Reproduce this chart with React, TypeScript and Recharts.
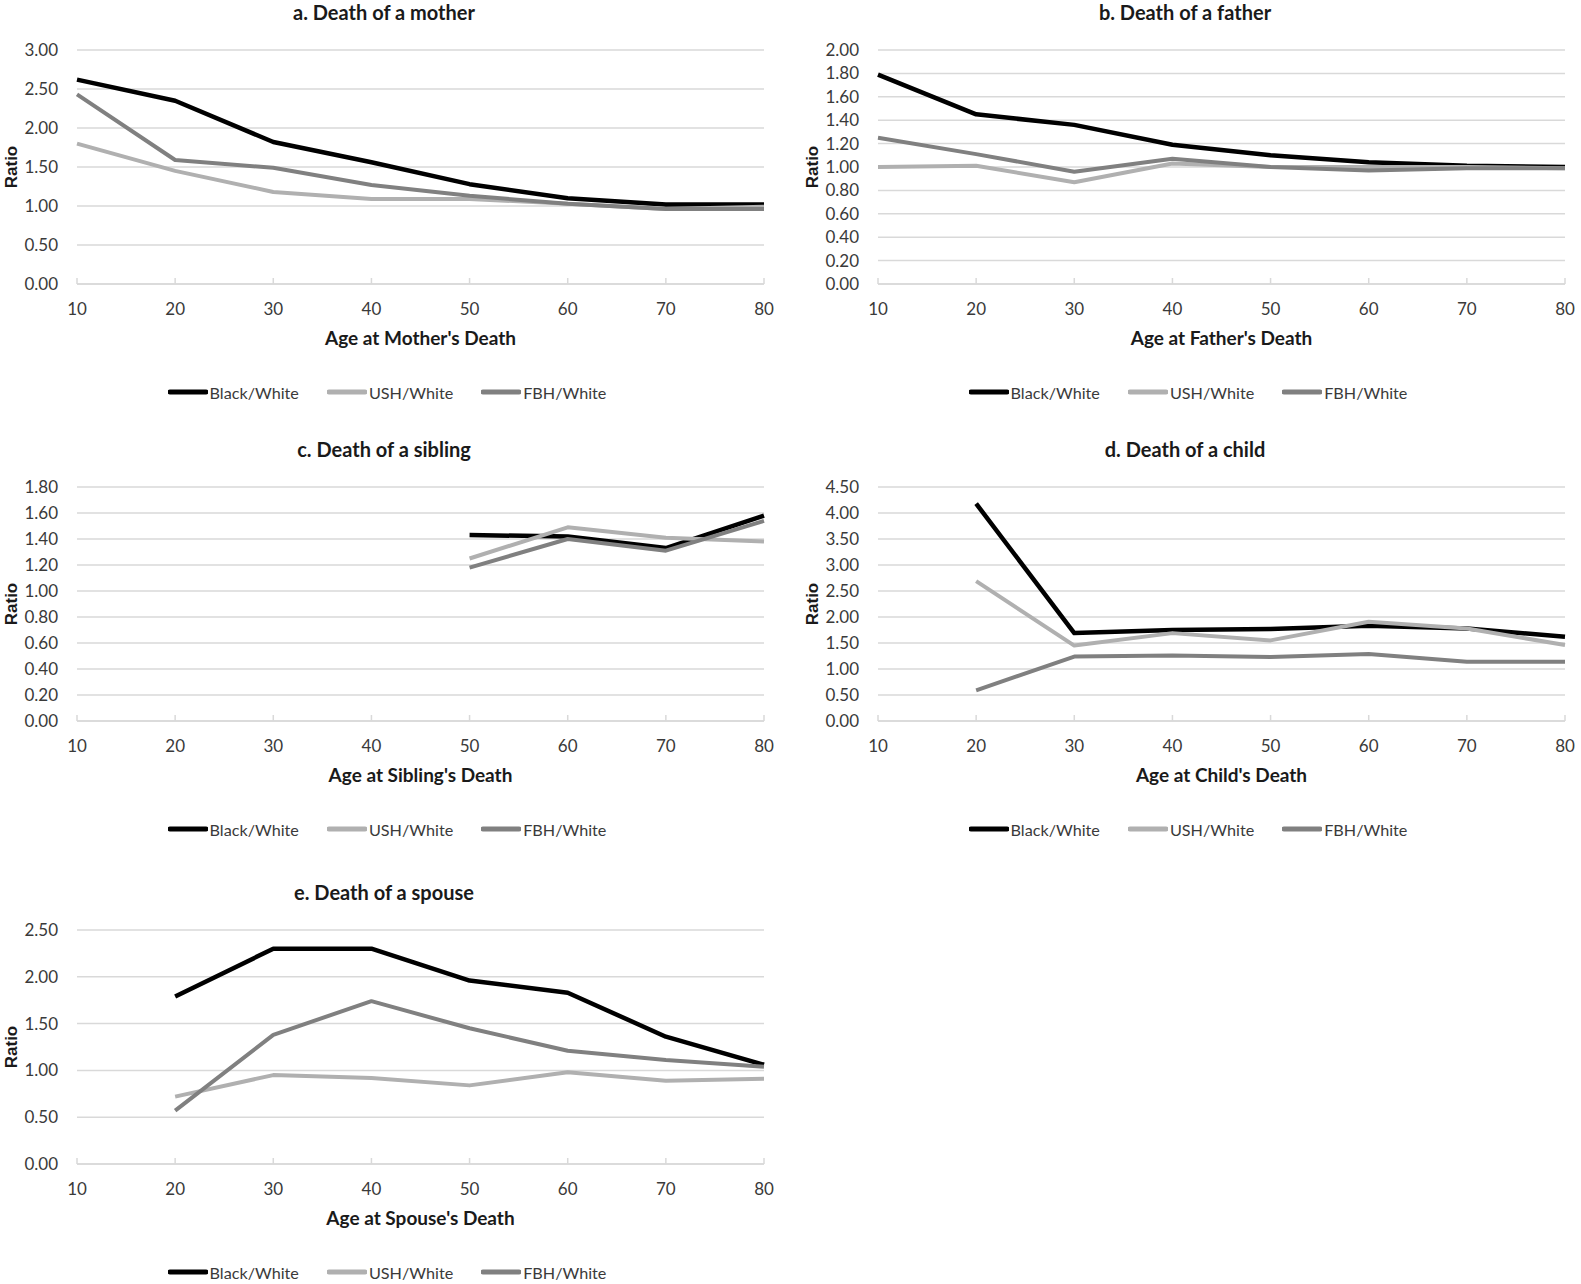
import { LineChart, Line, XAxis, YAxis, CartesianGrid, Legend } from 'recharts';

const ages = [10, 20, 30, 40, 50, 60, 70, 80];
const seriesNames = ['Black/White', 'USH/White', 'FBH/White'];
const seriesColors = ['#000000', '#b0b0b0', '#808080'];
const seriesWidths = [4.5, 4, 4];

// a. mother
const motherBlack = [2.62, 2.35, 1.82, 1.56, 1.28, 1.1, 1.02, 1.02];
const motherUSH = [1.8, 1.45, 1.18, 1.09, 1.09, 1.03, 0.96, 0.99];
const motherFBH = [2.43, 1.59, 1.49, 1.27, 1.13, 1.03, 0.96, 0.96];
const motherTicks = [0, 0.5, 1, 1.5, 2, 2.5, 3];

// b. father
const fatherBlack = [1.79, 1.45, 1.36, 1.19, 1.1, 1.04, 1.01, 1.0];
const fatherUSH = [1.0, 1.01, 0.87, 1.03, 1.0, 1.0, 1.0, 0.99];
const fatherFBH = [1.25, 1.11, 0.96, 1.07, 1.0, 0.97, 0.99, 0.99];
const fatherTicks = [0, 0.2, 0.4, 0.6, 0.8, 1, 1.2, 1.4, 1.6, 1.8, 2];

// c. sibling
const siblingBlack = [null, null, null, null, 1.43, 1.42, 1.33, 1.58];
const siblingUSH = [null, null, null, null, 1.25, 1.49, 1.41, 1.38];
const siblingFBH = [null, null, null, null, 1.18, 1.4, 1.31, 1.54];
const siblingTicks = [0, 0.2, 0.4, 0.6, 0.8, 1, 1.2, 1.4, 1.6, 1.8];

// d. child
const childBlack = [null, 4.18, 1.69, 1.75, 1.77, 1.83, 1.78, 1.62];
const childUSH = [null, 2.69, 1.45, 1.69, 1.55, 1.91, 1.78, 1.46];
const childFBH = [null, 0.59, 1.24, 1.26, 1.23, 1.29, 1.14, 1.14];
const childTicks = [0, 0.5, 1, 1.5, 2, 2.5, 3, 3.5, 4, 4.5];

// e. spouse
const spouseBlack = [null, 1.79, 2.3, 2.3, 1.96, 1.83, 1.36, 1.06];
const spouseUSH = [null, 0.72, 0.95, 0.92, 0.84, 0.98, 0.89, 0.91];
const spouseFBH = [null, 0.57, 1.38, 1.74, 1.45, 1.21, 1.11, 1.04];
const spouseTicks = [0, 0.5, 1, 1.5, 2, 2.5];

const FONT = 'Lato, "Open Sans", sans-serif';
const GRID = '#d9d9d9';
const CHART_W = 780;
const CHART_H = 404;
const PLOT_TOP = 50;
const PLOT_BOTTOM = 284;
const X_AXIS_H = 20;

const XTick = (props: any) => {
  const { x, y, payload } = props;
  return (
    <g>
      <line x1={x} x2={x} y1={y - 6} y2={y} stroke={GRID} strokeWidth={1.5} />
      <text x={x} y={y + 25} dy="0.35em" textAnchor="middle" fontSize={17} fill="#3a3a3a" fontFamily={FONT}>
        {payload.value}
      </text>
    </g>
  );
};

const renderLegend = (props: any) => {
  const payload = [...(props.payload || [])].sort(
    (a: any, b: any) => seriesNames.indexOf(a.value) - seriesNames.indexOf(b.value),
  );
  return (
    <div style={{ display: 'flex', justifyContent: 'center', alignItems: 'center', height: 22 }}>
      {payload.map((entry: any, i: number) => (
        <span key={i} style={{ display: 'flex', alignItems: 'center', marginRight: i < payload.length - 1 ? 28 : 0 }}>
          <svg width={40} height={10}>
            <line x1={2} x2={38} y1={5} y2={5} stroke={entry.color} strokeWidth={5} strokeLinecap="round" />
          </svg>
          <span style={{ marginLeft: 2, fontSize: 16.2, color: '#3a3a3a', fontFamily: FONT }}>{entry.value}</span>
        </span>
      ))}
    </div>
  );
};

interface PanelProps {
  left: number;
  top: number;
  title: string;
  xTitle: string;
  series: (number | null)[][];
  ticks: number[];
}

function Panel({ left, top, title, xTitle, series, ticks }: PanelProps) {
  const data = ages.map((age, i) => ({ age, black: series[0][i], ush: series[1][i], fbh: series[2][i] }));
  const keys = ['black', 'ush', 'fbh'];
  return (
    <div style={{ position: 'absolute', left, top, width: CHART_W, height: CHART_H }}>
      <div style={{
        position: 'absolute', left: 384 - 300, top: -1.5, width: 600, textAlign: 'center', lineHeight: '26px',
        fontFamily: FONT, fontWeight: 700, fontSize: 20, color: '#1a1a1a',
      }}>
        {title}
      </div>
      <LineChart width={CHART_W} height={CHART_H} data={data}
        margin={{ top: PLOT_TOP, right: 16, left: 0, bottom: CHART_H - PLOT_BOTTOM - X_AXIS_H }}>
        <CartesianGrid horizontal vertical={false} stroke={GRID} strokeWidth={1.5} />
        <XAxis dataKey="age" type="category" height={X_AXIS_H} interval={0}
          axisLine={{ stroke: GRID, strokeWidth: 1.5 }} tickLine={false} tickSize={0} tickMargin={0}
          tick={<XTick />} />
        <YAxis width={77} domain={[0, ticks[ticks.length - 1]]} ticks={ticks} interval={0}
          axisLine={false} tickLine={false} tickSize={0} tickMargin={19}
          tickFormatter={(v: number) => v.toFixed(2)}
          tick={{ fontSize: 17, fill: '#3a3a3a', fontFamily: FONT }} />
        {keys.map((k, i) => (
          <Line key={k} dataKey={k} name={seriesNames[i]} type="linear" stroke={seriesColors[i]}
            strokeWidth={seriesWidths[i]} strokeLinejoin="round" dot={false} activeDot={false}
            isAnimationActive={false} connectNulls={false} />
        ))}
        <Legend layout="horizontal" verticalAlign="middle" align="center" content={renderLegend}
          wrapperStyle={{ top: 381, left: 0, width: 774, height: 22 }} />
      </LineChart>
      <div style={{
        position: 'absolute', left: 77, top: 325, width: 687, textAlign: 'center', lineHeight: '26px',
        fontFamily: FONT, fontWeight: 700, fontSize: 19, color: '#1a1a1a',
      }}>
        {xTitle}
      </div>
      <div style={{
        position: 'absolute', left: 12, top: 167, transform: 'translate(-50%, -50%) rotate(-90deg)',
        fontFamily: '"Liberation Sans", Arial, sans-serif', fontWeight: 700, fontSize: 17, color: '#1a1a1a',
        whiteSpace: 'nowrap',
      }}>
        Ratio
      </div>
    </div>
  );
}

export default function App() {
  return (
    <div style={{ position: 'absolute', left: 0, top: 0, width: 1581, height: 1284, background: '#fff', overflow: 'hidden' }}>
      <Panel left={0} top={0} title="a. Death of a mother" xTitle="Age at Mother's Death"
        series={[motherBlack, motherUSH, motherFBH]} ticks={motherTicks} />
      <Panel left={801} top={0} title="b. Death of a father" xTitle="Age at Father's Death"
        series={[fatherBlack, fatherUSH, fatherFBH]} ticks={fatherTicks} />
      <Panel left={0} top={437} title="c. Death of a sibling" xTitle="Age at Sibling's Death"
        series={[siblingBlack, siblingUSH, siblingFBH]} ticks={siblingTicks} />
      <Panel left={801} top={437} title="d. Death of a child" xTitle="Age at Child's Death"
        series={[childBlack, childUSH, childFBH]} ticks={childTicks} />
      <Panel left={0} top={880} title="e. Death of a spouse" xTitle="Age at Spouse's Death"
        series={[spouseBlack, spouseUSH, spouseFBH]} ticks={spouseTicks} />
    </div>
  );
}
